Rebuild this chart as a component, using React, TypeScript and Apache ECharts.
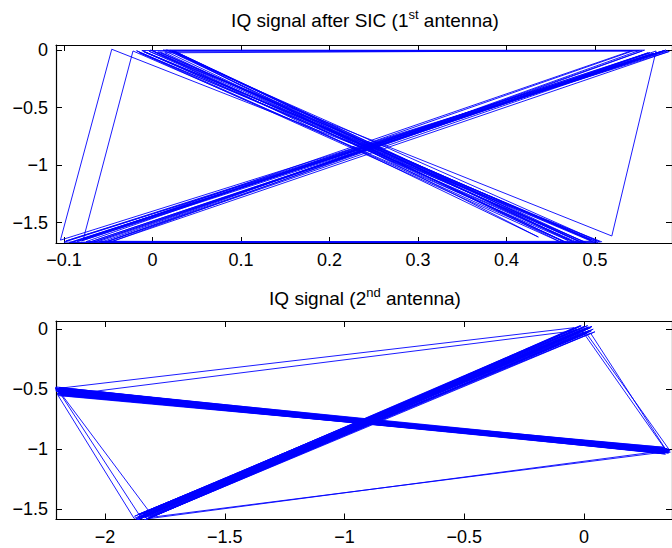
import React, { useEffect, useRef } from "react";
import * as echarts from "echarts";

// Top subplot: IQ signal after SIC (1st antenna) — trace of I/Q samples
const topI = [0.508, -0.046, -0.104, 0.578, -0.090, 0.562, -0.060, 0.490, -0.018, 0.466,
  0.012, 0.544, -0.075, 0.500, -0.008, 0.474, 0.024, 0.556, -0.048, 0.584,
  -0.098, 0.566, -0.072, 0.580, -0.055, 0.504, 0.002, 0.482, 0.020, 0.462,
  -0.015, 0.495, 0.006, 0.553, -0.058, 0.478, 0.016, 0.506, -0.012, 0.541,
  -0.085, 0.572, -0.066, 0.569, 0.519, -0.004, 0.486, 0.026, 0.470, -0.022,
  -0.078, 0.575, -0.100, 0.497, 0.009, 0.490, 0.022, 0.436, -0.002, 0.468,
  0.014, 0.550, -0.052, 0.560, -0.080, 0.582, -0.094, 0.502, -0.010, 0.480];
const topQ = [-1.668, 0.009, -1.652, -0.003, -1.668, -0.020, -1.662, -1.672, -0.004, -1.670,
  0.002, -0.002, -1.665, -1.675, -0.016, -1.660, -0.006, 0.001, -1.670, -0.010,
  -1.660, -0.025, -1.672, 0.002, -1.675, -1.676, -0.010, -1.664, 0.000, -1.672,
  -0.020, -1.650, -0.014, -0.006, -1.670, -1.675, 0.003, -1.670, -0.002, -0.005,
  -1.664, -0.016, -1.668, -0.006, -1.616, -0.008, -1.676, -0.012, -1.656, -0.006,
  -1.640, -0.012, -1.670, -1.662, -0.018, -1.677, -0.003, -1.625, 0.002, -1.674,
  -0.022, -0.002, -1.666, -0.022, -1.658, -0.004, -1.673, -1.666, -0.012, -1.671];

// Bottom subplot: IQ signal (2nd antenna)
const bottomI = [0.000, -1.853, -0.030, -1.821, 0.015, -1.869, -0.015, -1.837, 0.030, -1.805,
  0.330, -2.200, 0.345, -2.190, 0.320, -2.210, 0.355, -2.195, 0.335, -2.185,
  -0.045, -1.877, 0.000, -1.829, 0.022, -1.861, -0.022, -1.845, 0.038, -1.813,
  -2.205, 0.340, -2.190, 0.325, -2.200, 0.360, -2.180, 0.330, -2.210, 0.350,
  -0.008, -1.850, 0.015, -1.824, -0.038, -1.866, 0.008, -1.834, 0.030, -1.856, -0.015, -1.818,
  0.338, -2.196, 0.352, -2.188, 0.328, -2.204, 0.346, -2.192, 0.334, -2.186,
  -1.842, 0.045, -1.864, -0.030, -1.832, 0.000, -1.872, 0.018, -1.840, -0.012, -1.815, 0.027,
  0.342, -2.198, 0.326, -2.184, 0.356, -2.202, 0.336, -2.194, 0.348, -2.190,
  -0.042, -1.859, 0.009, -1.827, -0.018, -1.847, 0.033, -1.879,
  -2.196, 0.332, -2.206, 0.354, -2.188, 0.322, -2.200, 0.344, -2.192, 0.358,
  -0.006, -1.835, 0.021, -1.855];
const bottomQ = [0.000, -1.575, 0.015, -1.550, -0.030, -1.590, 0.030, -1.534, -0.015, -1.566,
  -1.024, -0.505, -1.000, -0.537, -1.032, -0.489, -1.016, -0.521, -0.984, -0.553,
  -0.015, -1.558, 0.022, -1.582, 0.008, -1.542, -0.030, -1.598, 0.000, -1.526,
  -0.481, -1.040, -0.513, -1.008, -0.545, -1.024, -0.529, -0.992, -0.497, -1.032,
  -0.015, -1.562, 0.030, -1.539, 0.008, -1.587, -0.038, -1.571, 0.015, -1.547, -0.008, -1.578,
  -1.011, -0.508, -1.021, -0.534, -0.999, -0.518, -1.027, -0.502, -1.018, -0.540,
  -1.594, -0.022, -1.568, 0.000, -1.552, -0.022, -1.581, 0.018, -1.536, 0.027, -1.562, -0.033,
  -1.005, -0.524, -1.024, -0.547, -1.008, -0.499, -1.034, -0.531, -0.995, -0.492,
  0.012, -1.584, 0.006, -1.545, -0.027, -1.557, 0.024, -1.576,
  -0.553, -1.014, -0.512, -1.030, -0.519, -1.002, -0.535, -1.021, -0.486, -1.011,
  0.009, -1.589, -0.012, -1.540];

// Tick labels
const topXTicks = [-0.1, 0, 0.1, 0.2, 0.3, 0.4, 0.5];
const topYTicks = [-1.5, -1, -0.5, 0];
const bottomXTicks = [-2, -1.5, -1, -0.5, 0];
const bottomYTicks = [-1.5, -1, -0.5, 0];

const FONT = "Liberation Sans, Arial, Helvetica, sans-serif";

function fmt(v: number): string {
  const r = Math.round(v * 100) / 100;
  return r < 0 ? "\u2212" + String(-r) : String(r);
}

function mkAxis(grid: number, min: number, max: number, ticks: number[], position: string, showLabel: boolean) {
  return {
    type: "value",
    gridIndex: grid,
    min,
    max,
    position,
    axisLine: { show: true, onZero: false, lineStyle: { color: "#000", width: 1.2 } },
    axisTick: { show: true, inside: true, length: 6, customValues: ticks, lineStyle: { color: "#000", width: 1 } },
    axisLabel: {
      show: showLabel,
      customValues: ticks,
      formatter: fmt,
      color: "#000",
      fontSize: 18,
      fontFamily: FONT,
      margin: 8,
    },
    splitLine: { show: false },
  };
}

function titleText(x: number, y: number, pre: string, sup: string, post: string) {
  return {
    type: "text",
    x,
    y,
    style: {
      text: `{a|${pre}}{s|${sup}}{a|${post}}`,
      align: "center",
      verticalAlign: "middle",
      fill: "#000",
      rich: {
        a: { fontSize: 19, fontFamily: FONT, fill: "#000", lineHeight: 24 },
        s: { fontSize: 13, fontFamily: FONT, fill: "#000", verticalAlign: "top", lineHeight: 14 },
      },
    },
  };
}

export default function App() {
  const ref = useRef<HTMLDivElement>(null);
  useEffect(() => {
    if (!ref.current) return;
    const chart = echarts.init(ref.current, undefined, { renderer: "svg" });
    const lineStyle = { color: "#0000ff", width: 0.9 };
    chart.setOption({
      animation: false,
      backgroundColor: "#fff",
      grid: [
        { left: 56, top: 45, width: 618, height: 198 },
        { left: 56, top: 321, width: 618, height: 198.5 },
      ],
      xAxis: [
        mkAxis(0, -0.109, 0.587, topXTicks, "bottom", true),
        mkAxis(0, -0.109, 0.587, topXTicks, "top", false),
        mkAxis(1, -2.205, 0.367, bottomXTicks, "bottom", true),
        mkAxis(1, -2.205, 0.367, bottomXTicks, "top", false),
      ],
      yAxis: [
        mkAxis(0, -1.677, 0.046, topYTicks, "left", true),
        mkAxis(0, -1.677, 0.046, topYTicks, "right", false),
        mkAxis(1, -1.585, 0.068, bottomYTicks, "left", true),
        mkAxis(1, -1.585, 0.068, bottomYTicks, "right", false),
      ],
      graphic: [
        titleText(365, 20, "IQ signal after SIC (1", "st", " antenna)"),
        titleText(365, 298, "IQ signal (2", "nd", " antenna)"),
      ],
      series: [
        {
          type: "line",
          xAxisIndex: 0,
          yAxisIndex: 0,
          data: topI.map((x, i) => [x, topQ[i]]),
          showSymbol: false,
          symbol: "none",
          lineStyle,
          silent: true,
        },
        {
          type: "line",
          xAxisIndex: 2,
          yAxisIndex: 2,
          data: bottomI.map((x, i) => [x, bottomQ[i]]),
          showSymbol: false,
          symbol: "none",
          lineStyle,
          silent: true,
        },
      ],
    });
    return () => chart.dispose();
  }, []);
  return (
    <div
      ref={ref}
      style={{ position: "fixed", left: 0, top: 0, width: 672, height: 548, background: "#fff" }}
    />
  );
}
